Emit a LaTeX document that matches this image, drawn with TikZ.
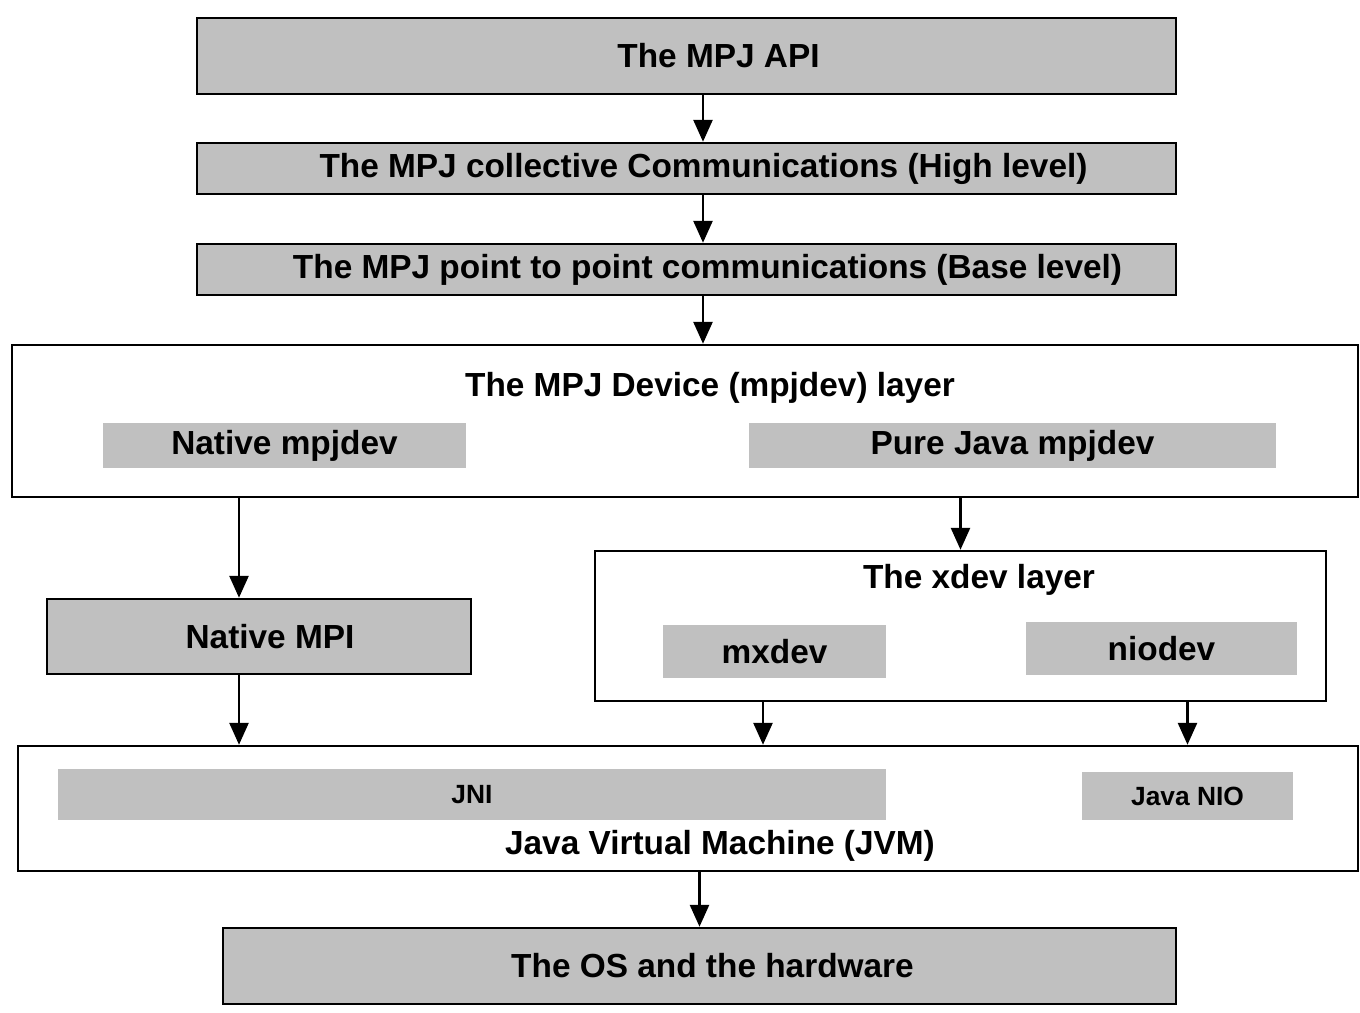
\documentclass[tikz,border=0pt]{standalone}
\usepackage{fontspec}
\setmainfont{Liberation Sans}
\usepackage{tikz}
\usetikzlibrary{arrows.meta, calc, positioning}
\definecolor{boxgray}{HTML}{C0C0C0}

\begin{document}
\begin{tikzpicture}[x=0.02cm,y=-0.02cm,->,>={Triangle[length=0.44cm,width=0.38cm]},line width=0.055cm,
	font=\bfseries\fontsize{19}{22}\selectfont]
	\tikzset{graybox/.style={draw,fill=boxgray,inner sep=0pt,line width=0.05cm},
		layerbox/.style={draw,fill=white,inner sep=0pt,line width=0.05cm},
		part/.style={fill=boxgray,inner sep=0pt},
		small/.style={font=\bfseries\fontsize{15}{18}\selectfont}}
	\useasboundingbox (0,0) rectangle (1360,1012);
	\node[graybox,minimum width=19.58cm,minimum height=1.52cm] (api) at (686.5,56) {\hspace*{1.28cm}The MPJ API};
	\node[graybox,minimum width=19.58cm,minimum height=1.02cm] (coll) at (686.5,168.5) {\hspace*{0.68cm}The MPJ collective Communications (High level)};
	\node[graybox,minimum width=19.58cm,minimum height=1.02cm] (p2p) at (686.5,269.5) {\hspace*{0.84cm}The MPJ point to point communications (Base level)};
	% mpjdev layer
	\node[layerbox,minimum width=26.92cm,minimum height=3.04cm] (dev) at (685,421) {};
	\node (devtitle) at (710,388) {The MPJ Device (mpjdev) layer};
	\node[part,minimum width=7.26cm,minimum height=0.9cm] (native) at (284.5,445.5) {Native mpjdev};
	\node[part,minimum width=10.54cm,minimum height=0.9cm] (pure) at (1012.5,445.5) {Pure Java mpjdev};
	\node[graybox,minimum width=8.48cm,minimum height=1.5cm] (nmpi) at (259,636.5) {\hspace*{0.44cm}Native MPI};
	% xdev layer
	\node[layerbox,minimum width=14.62cm,minimum height=3cm] (xdev) at (960.5,626) {};
	\node (xdevtitle) at (979,580) {The xdev layer};
	\node[part,minimum width=4.46cm,minimum height=1.06cm] (mxdev) at (774.5,651.5) {mxdev};
	\node[part,minimum width=5.42cm,minimum height=1.06cm] (niodev) at (1161.5,648.5) {niodev};
	% JVM
	\node[layerbox,minimum width=26.8cm,minimum height=2.5cm] (jvm) at (688,808.5) {};
	\node (jvmtitle) at (720,846) {Java Virtual Machine (JVM)};
	\node[part,small,minimum width=16.56cm,minimum height=1.02cm] (jni) at (472,794.5) {JNI};
	\node[part,small,minimum width=4.22cm,minimum height=0.96cm] (nio) at (1187.5,796) {Java NIO};
	\node[graybox,minimum width=19.06cm,minimum height=1.52cm] (os) at (699.5,966) {\hspace*{0.52cm}The OS and the hardware};

	\coordinate (p1) at ([xshift=0.33cm]p2p.south);
	\coordinate (m1) at ([xshift=-0.4cm]nmpi.north);
	\coordinate (m2) at ([xshift=-0.23cm]mxdev.south);
	\draw ([xshift=0.33cm]api.south) -- ([xshift=0.33cm]coll.north);
	\draw ([xshift=0.33cm]coll.south) -- ([xshift=0.33cm]p2p.north);
	\draw (p1) -- (p1 |- dev.north);
	\draw (m1 |- dev.south) -- (m1);
	\draw (xdev.north |- dev.south) -- (xdev.north);
	\draw (m1 |- nmpi.south) -- (m1 |- jvm.north);
	\draw (m2 |- xdev.south) -- (m2 |- jvm.north);
	\draw (nio |- xdev.south) -- (nio |- jvm.north);
	\draw (os.north |- jvm.south) -- (os.north);
\end{tikzpicture}
\end{document}
